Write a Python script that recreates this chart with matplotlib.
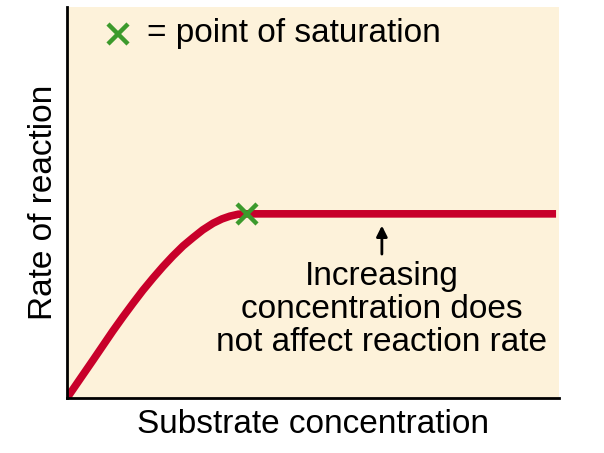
import matplotlib
matplotlib.use('Agg')
from matplotlib import pyplot as plt

plt.rcParams['font.family'] = ['Liberation Sans', 'DejaVu Sans']

# curve (substrate conc. vs rate, arbitrary units 0-10)
conc = [0.0, 0.30, 0.53, 0.73, 0.93, 1.14, 1.34, 1.54, 1.75, 1.95, 2.15,
        2.36, 2.56, 2.76, 2.97, 3.15, 3.31, 3.48, 3.66, 9.94]
rate = [0.0, 0.55, 0.97, 1.34, 1.71, 2.08, 2.42, 2.75, 3.07, 3.36, 3.63,
        3.89, 4.10, 4.30, 4.47, 4.58, 4.65, 4.70, 4.71, 4.71]
sat_x = 3.66
sat_y = 4.71

red = '#c8002a'
green = '#3c9a2c'
cream = '#fdf2da'

fig = plt.figure(figsize=(6.04, 4.53), dpi=100)
ax = fig.add_axes([67/604, 1 - 398/453, (559-67)/604, (398-7)/453])
ax.set_facecolor(cream)

ax.plot(conc, rate, color=red, linewidth=5.5, solid_capstyle='butt',
        solid_joinstyle='round', zorder=2)
ax.plot([sat_x], [sat_y], marker='x', color=green, markersize=15, mew=3.2, zorder=3)

# key at the top
ax.plot([1.03], [9.32], marker='x', color=green, markersize=15, mew=3.2, clip_on=False)
ax.text(1.63, 9.32, '= point of saturation', fontsize=24, va='center', ha='left')

ax.annotate('', xy=(6.40, 4.48), xytext=(6.40, 3.61),
            arrowprops=dict(arrowstyle='-|>', color='black', lw=2, mutation_scale=16))
ax.text(6.40, 3.50, 'Increasing\nconcentration does\nnot affect reaction rate',
        fontsize=24, ha='center', va='top', linespacing=1.08)

ax.set_xlim(0, 10)
ax.set_ylim(0, 10)
ax.set_xticks([])
ax.set_yticks([])
for s in ['top', 'right']:
    ax.spines[s].set_visible(False)
for s in ['left', 'bottom']:
    ax.spines[s].set_linewidth(2)
ax.set_xlabel('Substrate concentration', fontsize=24, labelpad=8)
ax.set_ylabel('Rate of reaction', fontsize=24, labelpad=6)

plt.savefig('out.png', dpi=100)
plt.close()
